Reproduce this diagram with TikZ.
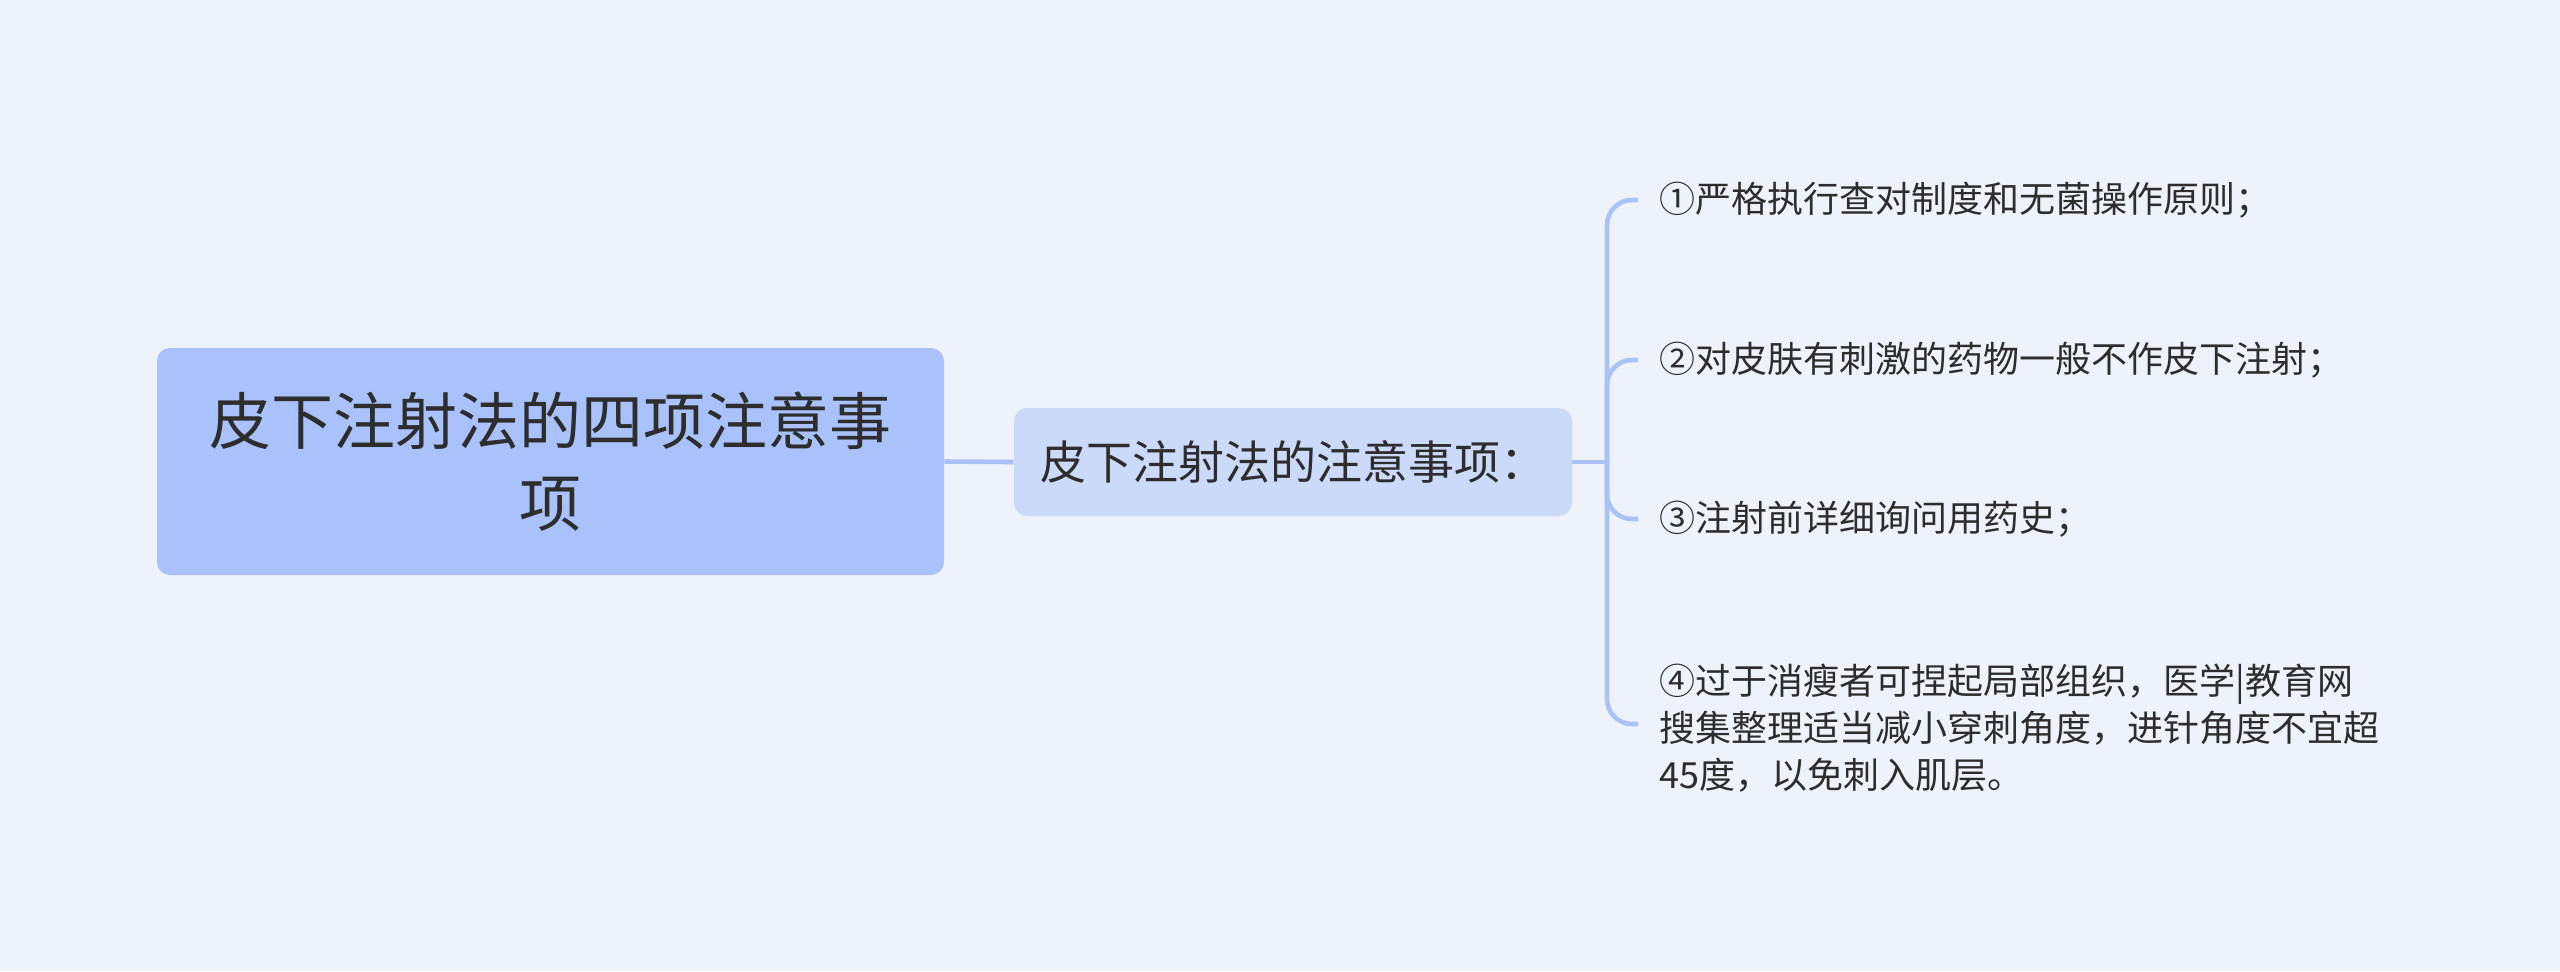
\documentclass[tikz,border=0pt]{standalone}
\usepackage{fontspec}
\setmainfont{Noto Sans CJK SC}
\definecolor{bgc}{HTML}{EEF2FB}
\definecolor{rootc}{HTML}{A9C2FC}
\definecolor{midc}{HTML}{CCDAFA}
\definecolor{linec}{HTML}{A9C2F8}
\definecolor{txt}{HTML}{2D2D2D}
\begin{document}
\begin{tikzpicture}[x=0.5pt,y=-0.5pt,
  rootbox/.style={fill=rootc, rounded corners=6.5pt, minimum width=393.5pt, minimum height=113.5pt, align=center, text=txt, font=\fontsize{31}{41}\selectfont, inner sep=0pt},
  midbox/.style={fill=midc, rounded corners=6.5pt, minimum width=279pt, minimum height=54pt, text=txt, font=\fontsize{23}{28}\selectfont, inner sep=0pt},
  leafbox/.style={anchor=west, inner sep=0pt, align=left, text=txt, font=\fontsize{18}{23.5}\selectfont},
  conn/.style={draw=linec, line width=2.3pt},
  bracket/.style={conn, rounded corners=12.5pt}]
\fill[bgc] (0,0) rectangle (2560,971);
\useasboundingbox (0,0) rectangle (2560,971);
\node[rootbox] (root) at (550.5,461.5) {皮下注射法的四项注意事\\项};
\node[midbox] (mid) at (1293,462) {皮下注射法的注意事项：};
\node[leafbox] (l1) at (1659,200) {①严格执行查对制度和无菌操作原则；};
\node[leafbox] (l2) at (1659,360) {②对皮肤有刺激的药物一般不作皮下注射；};
\node[leafbox] (l3) at (1659,519) {③注射前详细询问用药史；};
\node[leafbox] (l4) at (1659,728) {④过于消瘦者可捏起局部组织，医学|教育网\\搜集整理适当减小穿刺角度，进针角度不宜超\\45度，以免刺入肌层。};
\coordinate (j) at (1607,462);
\coordinate (e1) at (1638,200);
\coordinate (e2) at (1638,360);
\coordinate (e3) at (1638,519);
\coordinate (e4) at (1638,724);
\draw[conn] (root.east) -- (mid.west);
\draw[conn] (mid.east) -- (j);
\draw[bracket] (j) |- (e1);
\draw[bracket] (j) |- (e2);
\draw[bracket] (j) |- (e3);
\draw[bracket] (j) |- (e4);
\end{tikzpicture}
\end{document}
